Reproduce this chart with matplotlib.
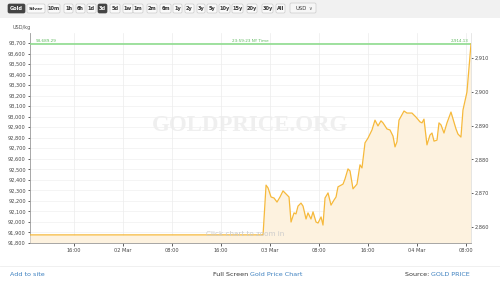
import numpy as np
import matplotlib.pyplot as plt
from matplotlib.patches import FancyBboxPatch, Rectangle

# hours relative to 03 Mar 00:00 (NY time)
hours = [-39.2, -1.14, -0.65, -0.33, 0.16, 0.65, 1.14, 1.63, 2.12, 2.61, 3.10,
         3.43, 3.92, 4.24, 4.57, 5.06, 5.39, 5.88, 6.20, 6.69, 7.02, 7.51,
         7.84, 8.33, 8.65, 8.98, 9.47, 9.96, 10.45, 10.78, 11.10, 11.92,
         12.24, 12.73, 13.06, 13.55, 14.20, 14.69, 15.02, 15.51, 16.00,
         16.65, 17.14, 17.63, 18.12, 18.45, 19.10, 19.59, 20.08, 20.41,
         20.73, 21.06, 21.88, 22.37, 23.18, 23.84, 24.49, 24.82, 25.14,
         25.63, 26.12, 26.45, 26.78, 27.27, 27.59, 27.92, 28.41, 28.90,
         29.55, 30.37, 30.69, 31.18, 31.51, 32.16, 32.82]
# gold price, USD per troy ounce
price_oz = [2857.7, 2857.7, 2872.4, 2871.6, 2868.9, 2868.6, 2867.4, 2868.9,
            2870.7, 2869.8, 2868.9, 2861.5, 2864.2, 2863.9, 2866.2, 2867.1,
            2866.2, 2862.4, 2864.2, 2862.4, 2864.5, 2861.5, 2861.2, 2863.0,
            2860.6, 2868.6, 2870.1, 2866.5, 2868.0, 2868.9, 2871.9, 2872.7,
            2874.2, 2877.2, 2876.6, 2871.3, 2872.7, 2878.4, 2877.5, 2884.9,
            2886.3, 2888.7, 2891.6, 2889.9, 2891.4, 2890.8, 2889.0, 2888.7,
            2886.9, 2883.7, 2885.2, 2891.6, 2894.3, 2893.7, 2893.7, 2892.5,
            2891.1, 2890.8, 2891.9, 2884.3, 2887.2, 2887.8, 2885.4, 2885.7,
            2890.8, 2890.2, 2887.8, 2890.8, 2894.0, 2889.0, 2887.5, 2886.6,
            2894.6, 2899.9, 2914.13]

x_ticks = [-32, -24, -16, -8, 0, 8, 16, 24, 32]
x_labels = ['16:00', '02 Mar', '08:00', '16:00', '03 Mar', '08:00', '16:00', '04 Mar', '08:00']
kg_ticks = list(range(91800, 93800, 100))
oz_ticks = [2860, 2870, 2880, 2890, 2900, 2910]
buttons = ['Gold', 'Silver', '10m', '1h', '6h', '1d', '3d', '5d', '1w', '1m', '2m',
           '6m', '1y', '2y', '3y', '5y', '10y', '15y', '20y', '30y', 'All']
button_x = [8, 27, 48, 64, 76, 87, 98, 110, 123, 133, 147, 160, 173, 185, 197,
            207, 219, 232, 247, 262, 276]
button_w = [17, 18, 12, 9, 9, 9, 9, 10, 10, 10, 10, 11, 9, 9, 8, 10, 11, 11, 10, 11, 9]
selected = ['Gold', '3d']

high_kg = '93,689.29'
high_oz = 2914.13
OZ_PER_KG = 32.1507

W, H = 500, 282
fig = plt.figure(figsize=(5, 2.82), dpi=100, facecolor='w')

# toolbar
bg = fig.add_axes([0, 0, 1, 1])
bg.set_xlim(0, W)
bg.set_ylim(H, 0)
bg.axis('off')
bg.add_patch(Rectangle((0, 0), W, 18, color='#f1f1f1', lw=0))
for name, bx, bw in zip(buttons, button_x, button_w):
    dark = name in selected
    bg.add_patch(FancyBboxPatch((bx, 4), bw, 9, boxstyle='round,pad=0,rounding_size=1.5',
                                fc='#444444' if dark else '#fafafa',
                                ec='#444444' if dark else '#cccccc', lw=0.5))
    bg.text(bx + bw / 2, 8.7, name, ha='center', va='center',
            fontsize=3.2 if len(name) > 4 else 3.6,
            fontweight='bold', color='w' if dark else '#333333')
bg.add_patch(FancyBboxPatch((290, 3), 26, 10, boxstyle='round,pad=0,rounding_size=1.5',
                            fc='#f6f6f6', ec='#cccccc', lw=0.5))
bg.text(296, 8.3, 'USD', ha='left', va='center', fontsize=3.8, color='#333333')
bg.text(310, 8.3, '\u2228', ha='center', va='center', fontsize=3.5, color='#555555')
bg.text(13, 27, 'USD/kg', ha='left', va='center', fontsize=3.6, color='#555555')
bg.plot([0, W], [266, 266], color='#eeeeee', lw=0.6)
bg.text(10, 274, 'Add to site', ha='left', va='center', fontsize=4.6, color='#3a7fbf')
bg.text(250, 274, 'Full Screen ', ha='right', va='center', fontsize=4.6, color='#333333')
bg.text(250, 274, 'Gold Price Chart', ha='left', va='center', fontsize=4.6, color='#3a7fbf')
bg.text(431, 274, 'Source: ', ha='right', va='center', fontsize=4.6, color='#333333')
bg.text(431, 274, 'GOLD PRICE', ha='left', va='center', fontsize=4.6, color='#3a7fbf')

ax = fig.add_axes([30 / W, 1 - 243 / H, 441 / W, 210 / H])
ax.set_facecolor('none')
ylo = 91800 / OZ_PER_KG
yhi = ylo + 210 * 9.5 / OZ_PER_KG
ax.set_xlim(hours[0], hours[-1])
ax.set_ylim(ylo, yhi)

ax.text(0.5, 0.56, 'GOLDPRICE.ORG', transform=ax.transAxes, ha='center', va='center',
        fontsize=16.5, fontweight='bold', family='Liberation Serif', color='#efefef', zorder=0)
ax.fill_between(hours, price_oz, ylo, color='#fdf2df', lw=0, zorder=1)
ax.plot(hours, price_oz, color='#f6b93b', lw=0.9, zorder=3)
ax.axhline(high_oz, color='#8fdc8f', lw=1.2, zorder=2)
ax.text(0.012, high_oz + 0.4, high_kg, transform=ax.get_yaxis_transform(), fontsize=3,
        color='#5cb85c', va='bottom', ha='left')
ax.text(0.5, high_oz + 0.4, '23:59:23 NY Time', transform=ax.get_yaxis_transform(),
        fontsize=3, color='#5cb85c', va='bottom', ha='center')
ax.text(0.995, high_oz + 0.4, '{:,.2f}'.format(high_oz), transform=ax.get_yaxis_transform(),
        fontsize=3, color='#5cb85c', va='bottom', ha='right')
ax.text(0.488, 0.045, 'Click chart to zoom in', transform=ax.transAxes, ha='center',
        va='center', fontsize=5.2, color='#cccccc', zorder=4)

# grid
for v in kg_ticks:
    ax.axhline(v / OZ_PER_KG, color='#f0f0f0', lw=0.5, zorder=0)
for t in x_ticks:
    ax.axvline(t, color='#ececec', lw=0.5, zorder=0)

ax.set_xticks(x_ticks)
ax.set_xticklabels(x_labels)
ax.yaxis.tick_right()
ax.set_yticks(oz_ticks)
ax.set_yticklabels(['{:,}'.format(v) for v in oz_ticks])
ax.tick_params(axis='both', labelsize=3.6, colors='#444444', length=1.5, width=0.6, pad=1.5)
ax.tick_params(axis='x', length=2)

sec = ax.secondary_yaxis('left', functions=(lambda v: v * OZ_PER_KG, lambda v: v / OZ_PER_KG))
sec.set_yticks(kg_ticks)
sec.set_yticklabels(['{:,}'.format(v) for v in kg_ticks])
sec.tick_params(labelsize=3.6, colors='#444444', length=1.5, width=0.6, pad=1.5)
sec.spines['left'].set_color('#999999')
sec.spines['left'].set_linewidth(0.6)

for s in ['top', 'left']:
    ax.spines[s].set_visible(False)
ax.spines['right'].set_color('#dddddd')
ax.spines['right'].set_linewidth(0.5)
ax.spines['bottom'].set_color('#999999')
ax.spines['bottom'].set_linewidth(0.6)

fig.savefig('out.png', dpi=100)
